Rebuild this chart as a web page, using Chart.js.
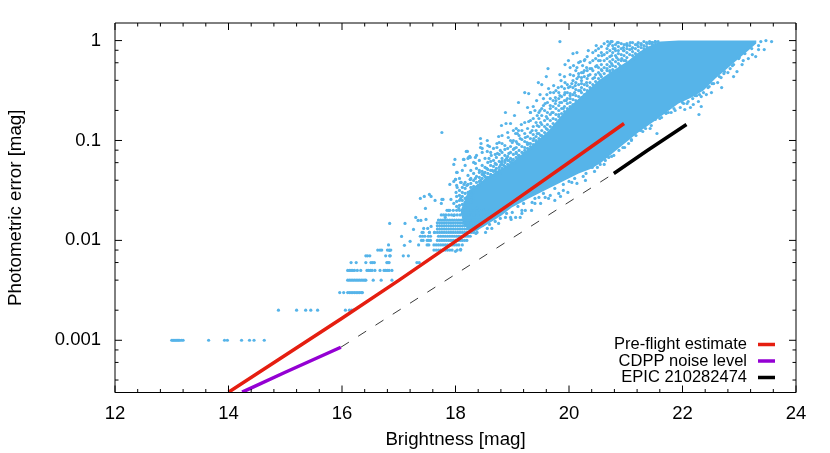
<!DOCTYPE html>
<html>
<head>
<meta charset="utf-8">
<title>Photometric error vs brightness</title>
<script src="https://cdn.jsdelivr.net/npm/chart.js@4/dist/chart.umd.min.js"></script>
<style>
  html, body { margin: 0; padding: 0; background: #fff; }
  canvas { display: block; }
</style>
</head>
<body>
<canvas id="chart" width="830" height="453"></canvas>
<script>
// values: [magnitude, log10(error)]
const redLine = [[14, -3.52], [15, -3.15], [16, -2.78], [17, -2.4], [18, -2.01], [19, -1.62], [20, -1.22], [20.97, -0.83]];
const purpleLine = [[14.24, -3.52], [15, -3.32], [15.98, -3.07]];
const dashedLine = [[15.98, -3.07], [20.79, -1.33]];
const blackLine = [[20.79, -1.33], [21.38, -1.1], [22.07, -0.84]];

// outline of the solid part of the cloud, too dense to read point by point
const coreOutline = [
  [18.23, -1.5], [18.58, -1.36], [18.99, -1.22], [19.29, -1.08], [19.64, -0.9], [19.94, -0.7],
  [20.29, -0.52], [20.52, -0.4], [20.75, -0.31], [21.05, -0.2], [21.22, -0.12], [21.4, -0.06],
  [21.61, -0.01], [21.93, 0], [23.3, 0], [23.3, -0.03], [23.16, -0.1], [22.95, -0.2], [22.81, -0.27],
  [22.58, -0.38], [22.37, -0.5], [22.16, -0.57], [21.93, -0.63], [21.52, -0.8], [21.22, -0.92],
  [20.87, -1.08], [20.57, -1.22], [20.4, -1.28], [20.17, -1.33], [19.64, -1.48], [19.29, -1.58],
  [18.99, -1.67], [18.81, -1.75], [18.53, -1.85], [18.32, -1.92], [18.14, -1.85], [18.09, -1.7]
];

// faint stars: the error is rounded to 0.001, so they line up in rows
const rowErrors = [0.001, 0.002, 0.003, 0.004, 0.005, 0.006, 0.007, 0.008, 0.009, 0.01, 0.011, 0.012, 0.013, 0.014, 0.015, 0.016, 0.018, 0.02];
const rowMags = [
  [13.0, 13.02, 13.04, 13.06, 13.08, 13.1, 13.12, 13.14, 13.17, 13.2, 13.65, 13.93, 13.98, 14.23, 14.37, 14.45, 14.63],
  [14.88, 15.2, 15.36, 15.45, 15.57, 16.06, 16.13, 16.17, 16.2],
  [15.96, 16.03, 16.1, 16.13, 16.16, 16.19, 16.22, 16.25, 16.28, 16.31, 16.34, 16.36],
  [16.1, 16.13, 16.16, 16.19, 16.22, 16.25, 16.28, 16.31, 16.34, 16.37, 16.4, 16.42, 16.55, 16.69, 16.88],
  [16.1, 16.13, 16.16, 16.19, 16.22, 16.27, 16.33, 16.44, 16.47, 16.5, 16.53, 16.58, 16.67, 16.74, 16.77, 16.8, 16.83, 16.88],
  [16.16, 16.25, 16.42, 16.51, 16.54, 16.57, 16.79, 16.81, 16.83, 17.32, 17.36],
  [16.42, 16.45, 16.49, 16.77, 16.85, 16.84, 17.08, 17.17],
  [16.63, 16.67, 16.7, 16.8, 16.83, 16.86, 17.62, 17.66, 17.7, 17.74, 17.78, 17.82, 17.86, 17.9, 17.94, 18.03, 18.09],
  [16.82, 17.35, 17.5, 17.53, 17.62, 17.66, 17.7, 17.74, 17.78, 17.82, 17.86, 17.9, 17.94, 17.98, 18.02, 18.06, 18.12],
  [17.4, 17.43, 17.5, 17.53, 17.56, 17.68, 17.72, 17.76, 17.8, 17.84, 17.88, 17.92, 17.96, 18.0, 18.04, 18.08, 18.12, 18.16, 18.2],
  [17.38, 17.42, 17.46, 17.52, 17.56, 17.7, 17.74, 17.78, 17.82, 17.86, 17.9, 17.94, 17.98, 18.02, 18.06, 18.1, 18.14, 18.18, 18.22, 18.26],
  [17.43, 17.54, 17.63, 17.68, 17.72, 17.76, 17.8, 17.84, 17.88, 17.92, 17.96, 18.0, 18.04, 18.08, 18.12, 18.16, 18.2, 18.24, 18.28, 18.32, 18.38],
  [17.68, 17.72, 17.76, 17.8, 17.84, 17.88, 17.92, 17.96, 18.0, 18.04, 18.08, 18.12, 18.16, 18.2, 18.24, 18.28, 18.32, 18.38],
  [17.68, 17.72, 17.76, 17.8, 17.84, 17.88, 17.92, 17.96, 18.0, 18.04, 18.08, 18.12, 18.16, 18.2, 18.24, 18.28, 18.32, 18.36, 18.4, 18.44],
  [17.68, 17.72, 17.76, 17.8, 17.84, 17.88, 17.92, 17.96, 18.0, 18.04, 18.08, 18.12, 18.16, 18.2, 18.24, 18.28, 18.32, 18.36, 18.4, 18.44, 18.47],
  [17.7, 17.74, 17.78, 17.82, 17.86, 17.9, 17.94, 17.98, 18.02, 18.06, 18.1, 18.14, 18.18, 18.22, 18.26, 18.3, 18.34, 18.38, 18.42, 18.46, 18.5],
  [17.75, 17.79, 17.83, 17.88, 17.93, 17.98, 18.03, 18.08, 18.13, 18.18, 18.23, 18.28, 18.33, 18.4, 18.5, 18.56],
  [17.85, 17.9, 17.96, 18.02, 18.07, 18.12, 18.17, 18.22, 18.27, 18.33, 18.42, 18.5, 18.6]
];

// thick band of stars above the solid core, one column of log10(error) per magnitude
const bandMags = [18.02, 18.07, 18.12, 18.17, 18.22, 18.27, 18.32, 18.37, 18.42, 18.47, 18.52, 18.57, 18.62, 18.67, 18.72, 18.77, 18.82, 18.87, 18.92, 18.97,
  19.02, 19.07, 19.12, 19.17, 19.22, 19.27, 19.32, 19.37, 19.42, 19.47, 19.52, 19.57, 19.62, 19.67, 19.72, 19.77, 19.82, 19.87, 19.92, 19.97,
  20.02, 20.07, 20.12, 20.17, 20.22, 20.27, 20.32, 20.37, 20.42, 20.47, 20.52, 20.57, 20.62, 20.67, 20.72, 20.77, 20.82, 20.87, 20.92, 20.97,
  21.02, 21.07, 21.12, 21.17, 21.22, 21.27, 21.32, 21.37, 21.42, 21.47, 21.52, 21.57];
const bandLogErrs = [
  [-1.45, -1.56, -1.61, -1.66], [-1.38, -1.5, -1.55, -1.6, -1.65], [-1.3, -1.47, -1.52, -1.56, -1.6, -1.64], [-1.25, -1.42, -1.48, -1.53, -1.58, -1.62, -1.67],
  [-1.18, -1.35, -1.44, -1.52, -1.56, -1.6, -1.65, -1.69], [-1.3, -1.38, -1.43, -1.47, -1.55, -1.62], [-1.22, -1.33, -1.4, -1.46, -1.52, -1.58], [-1.15, -1.28, -1.36, -1.42, -1.47],
  [-1.2, -1.32, -1.37, -1.41, -1.46], [-1.12, -1.25, -1.34, -1.38, -1.42], [-1.18, -1.27, -1.32, -1.36, -1.4], [-1.05, -1.22, -1.29, -1.33, -1.37],
  [-1.12, -1.25, -1.3, -1.34], [-1.08, -1.2, -1.26, -1.31, -1.35], [-1.17, -1.24, -1.28, -1.32], [-1.02, -1.14, -1.21, -1.27, -1.3],
  [-0.95, -1.12, -1.18, -1.24, -1.28], [-1.05, -1.15, -1.22, -1.26], [-0.92, -1.08, -1.16, -1.2, -1.24], [-1.06, -1.12, -1.18, -1.22],
  [-0.9, -1.0, -1.09, -1.14, -1.19], [-0.88, -1.01, -1.07, -1.12, -1.17], [-0.95, -1.04, -1.1, -1.15], [-0.9, -0.99, -1.06, -1.12],
  [-0.82, -0.93, -1.01, -1.07, -1.1], [-0.88, -0.96, -1.04, -1.08], [-0.8, -0.92, -0.98, -1.03, -1.06], [-0.78, -0.86, -0.94, -1.0, -1.04],
  [-0.82, -0.9, -0.96, -1.01], [-0.72, -0.78, -0.86, -0.93, -0.98], [-0.68, -0.75, -0.84, -0.9, -0.95], [-0.7, -0.8, -0.86, -0.92],
  [-0.62, -0.72, -0.78, -0.84, -0.89], [-0.58, -0.68, -0.74, -0.8, -0.86], [-0.6, -0.66, -0.72, -0.78, -0.83], [-0.5, -0.6, -0.68, -0.74, -0.79],
  [-0.52, -0.58, -0.65, -0.7, -0.76], [-0.46, -0.56, -0.62, -0.68, -0.73], [-0.36, -0.48, -0.54, -0.6, -0.66, -0.71], [-0.44, -0.52, -0.58, -0.63, -0.68],
  [-0.34, -0.46, -0.53, -0.58, -0.62, -0.66], [-0.4, -0.47, -0.54, -0.59, -0.64], [-0.3, -0.42, -0.49, -0.55, -0.6], [-0.22, -0.36, -0.44, -0.5, -0.56],
  [-0.32, -0.4, -0.47, -0.52, -0.57], [-0.2, -0.3, -0.36, -0.44, -0.49, -0.54], [-0.16, -0.3, -0.38, -0.45, -0.5], [-0.22, -0.28, -0.34, -0.42, -0.47],
  [-0.12, -0.2, -0.3, -0.38, -0.44], [-0.1, -0.18, -0.26, -0.34, -0.41], [-0.08, -0.2, -0.27, -0.32, -0.38], [-0.06, -0.12, -0.24, -0.29, -0.36],
  [-0.03, -0.14, -0.2, -0.27, -0.33], [-0.08, -0.12, -0.18, -0.24, -0.3], [-0.03, -0.1, -0.16, -0.21, -0.26, -0.31], [-0.05, -0.12, -0.19, -0.25, -0.29],
  [-0.04, -0.1, -0.15, -0.21, -0.26], [-0.06, -0.13, -0.19, -0.23], [-0.03, -0.08, -0.14, -0.2], [-0.04, -0.1, -0.15, -0.2],
  [-0.03, -0.08, -0.12, -0.17], [-0.05, -0.09, -0.14], [-0.02, -0.07, -0.11, -0.15], [-0.04, -0.08, -0.13],
  [-0.02, -0.06, -0.1], [-0.03, -0.07], [-0.01, -0.05, -0.08], [-0.03, -0.06], [-0.01, -0.03], [-0.02, -0.04], [-0.01, -0.02], [-0.01]
];

// scattered stars around the edge of the cloud
const scatterPoints = [
  [16.84, -1.83], [17.11, -1.83], [17.26, -1.89], [17.05, -1.96], [17.2, -2.01], [17.1, -2.05], [16.84, -2.1],
  [17.38, -1.58], [17.45, -1.56], [17.54, -1.54], [17.57, -1.56], [17.47, -1.68], [17.64, -1.6], [17.75, -1.63], [17.78, -1.59],
  [17.3, -1.77], [17.34, -1.8], [17.39, -1.8], [17.48, -1.79], [17.57, -1.86], [17.44, -1.88], [17.41, -1.92], [17.51, -1.88], [17.54, -1.92], [17.63, -1.92],
  [17.76, -0.92], [18.19, -1.11], [18.25, -1.16], [18.14, -1.19], [18.35, -1.17], [17.99, -1.19], [17.97, -1.24], [18.35, -1.23], [18.02, -1.32], [18, -1.39],
  [18.26, -1.39], [17.9, -1.44], [18.09, -1.42], [18.01, -1.52], [18.2, -1.45], [18.32, -1.48], [17.76, -1.59], [17.92, -1.59], [18.09, -1.58], [18.2, -1.57],
  [18.17, -1.63], [17.97, -1.63], [17.88, -1.7], [18.06, -1.68], [18.26, -1.6], [18.29, -1.53], [18.12, -1.73], [17.97, -1.75], [17.82, -1.77], [18.23, -1.7], [18.38, -1.68],
  [18.44, -0.98], [18.45, -1.03], [18.44, -1.07], [18.47, -1.08], [18.56, -1], [18.6, -1.06], [18.56, -1.11], [18.21, -1.11], [18.23, -1.17], [18.26, -1.17], [18.15, -1.19],
  [18.03, -1.32], [18, -1.39], [17.97, -1.41], [18.03, -1.47], [18.1, -1.42], [18.15, -1.44], [18.26, -1.39], [18.47, -1.31], [18.5, -1.33], [18.44, -1.4], [18.53, -1.37],
  [18.59, -1.18], [18.63, -1.15], [18.7, -1.14], [18.74, -1.13], [18.79, -1.1], [18.62, -1.21], [18.73, -1.03], [18.82, -1.03], [18.73, -1.07], [18.76, -0.96], [18.93, -0.97],
  [18.97, -1], [19, -1.02], [19.09, -1.03], [18.81, -0.85], [18.89, -0.83], [18.97, -0.83], [19.16, -0.84], [19.06, -0.93], [19.09, -0.93], [19.11, -0.9], [19.14, -0.98],
  [19.23, -0.97], [19.26, -1.02], [18.87, -1.09], [18.94, -1.13], [19.04, -1.08], [19.07, -1.13], [19.11, -1.15], [18.94, -1.2], [19, -1.2], [18.82, -1.21], [18.87, -1.2],
  [18.7, -1.23], [18.79, -1.25], [18.85, -1.25], [18.65, -1.3], [18.73, -1.32], [18.94, -1.27], [19.04, -1.23], [19.11, -1.18], [19.2, -1.13], [19.29, -1.1], [19.29, -1.03],
  [19.38, -0.98], [19.44, -0.93], [19.35, -0.9], [19.44, -0.75], [19.29, -0.81], [19.32, -0.72], [19.44, -0.85], [18.88, -0.72], [19.04, -0.75],
  [18.5, -1.35], [18.4, -1.45], [18.55, -1.28], [18.7, -1.3], [18.8, -1.22], [18.9, -1.18], [18.35, -1.38], [18.42, -1.3], [18.62, -1.36], [18.78, -1.33],
  [19.84, -0.01], [19.11, -0.62], [19.22, -0.52], [19.29, -0.53], [19.27, -0.67], [19.37, -0.66], [19.32, -0.72], [19.43, -0.6], [19.49, -0.54], [19.46, -0.42], [19.52, -0.44],
  [19.6, -0.36], [19.63, -0.28], [19.64, -0.48], [19.73, -0.45], [19.81, -0.47], [19.73, -0.52], [19.67, -0.52], [19.61, -0.54], [19.55, -0.58], [19.76, -0.57], [19.84, -0.55],
  [19.86, -0.4], [19.84, -0.34], [19.93, -0.42], [20.05, -0.43], [20.14, -0.38], [20.22, -0.37], [19.93, -0.24], [19.99, -0.2], [20.02, -0.27], [20.08, -0.25], [20.07, -0.13],
  [20.14, -0.12], [20.2, -0.21], [20.24, -0.25], [20.14, -0.27], [20.28, -0.19], [20.34, -0.1], [20.48, -0.05], [20.52, -0.15], [20.58, -0.15], [20.55, -0.2], [20.68, -0.01],
  [20.74, -0.01], [20.85, -0.02], [20.69, -0.05], [20.78, -0.08], [20.87, -0.1], [20.96, -0.07], [21.02, -0.05], [20.75, -0.15], [20.84, -0.17], [20.93, -0.18], [20.31, -0.27],
  [20.4, -0.28], [20.49, -0.25], [20.58, -0.3], [20.67, -0.28], [20.75, -0.23], [20.25, -0.32], [20.34, -0.35], [20.45, -0.37], [20.55, -0.34], [20.08, -0.35], [20.17, -0.33],
  [19.99, -0.47], [20.11, -0.45], [20.22, -0.43], [20.31, -0.42], [19.93, -0.52], [19.84, -0.62], [19.76, -0.63], [19.67, -0.65], [19.58, -0.63], [19.49, -0.7], [19.7, -0.72],
  [19.55, -0.65], [19.4, -0.7], [19.95, -0.6], [20.02, -0.55], [20.1, -0.52], [20.2, -0.5], [19.9, -0.68], [19.82, -0.74], [19.6, -0.76], [19.5, -0.82], [19.6, -0.88], [19.42, -1.0],
  [19.35, -1.08], [19.5, -0.95], [20.76, -0.01], [20.87, -0.02], [21.02, -0.04], [21.08, -0.02], [21.2, -0.04], [21.27, -0.04], [21.37, -0.02], [21.46, -0.02], [21.52, -0.01],
  [20.81, -0.08], [20.96, -0.1], [21.11, -0.08], [21.28, -0.12], [21.4, -0.08], [20.72, -0.3], [20.88, -0.3], [21.0, -0.2], [21.15, -0.18], [20.9, -0.25],
  [23.38, -0.01], [23.47, 0], [23.57, -0.01], [23.34, -0.05], [23.34, -0.09], [23.44, -0.09], [23.29, -0.16], [23.23, -0.14], [23.16, -0.18], [23.07, -0.2], [22.99, -0.18],
  [22.96, -0.31], [22.9, -0.36], [22.84, -0.28], [22.8, -0.32], [22.68, -0.37], [22.69, -0.47], [22.55, -0.43], [22.47, -0.46], [22.51, -0.52], [22.37, -0.52], [22.33, -0.56],
  [22.25, -0.55], [22.18, -0.58], [22.19, -0.64], [22.33, -0.66], [22.14, -0.67], [22.04, -0.69], [21.96, -0.67], [22.29, -0.74], [22.08, -0.63], [22.0, -0.62], [21.8, -0.72],
  [23.05, -0.24], [22.9, -0.24], [22.73, -0.33], [22.62, -0.42], [22.42, -0.54], [22.28, -0.61], [21.87, -0.7], [21.7, -0.72], [21.55, -0.93], [21.52, -0.79], [21.43, -0.88],
  [21.26, -0.9], [21.18, -0.95], [21.05, -1.03], [20.98, -1.07], [20.88, -1.1], [20.79, -1.15], [20.64, -1.2], [20.55, -1.24], [20.41, -1.27], [21.71, -0.73], [21.63, -0.77],
  [21.35, -0.88], [21.1, -1.0], [20.7, -1.17], [19.98, -1.52], [20.14, -1.43], [20.29, -1.4], [19.82, -1.53], [19.75, -1.6], [19.85, -1.56], [19.64, -1.58], [19.5, -1.63],
  [19.4, -1.63], [19.34, -1.7], [19.23, -1.7], [19.17, -1.73], [19.14, -1.77], [18.98, -1.79], [19.06, -1.77], [18.76, -1.83], [18.64, -1.88], [18.56, -1.88], [18.53, -1.92],
  [18.44, -1.83], [18.79, -1.78], [18.97, -1.77], [19.58, -1.57], [19.67, -1.55], [19.47, -1.57], [19.35, -1.62], [19.17, -1.7], [19, -1.72], [18.88, -1.77], [18.47, -1.85],
  [18.36, -1.93], [18.09, -2.09], [18, -2.11], [20.05, -1.42], [19.9, -1.5], [20.25, -1.36], [20.45, -1.31],
  [18.6, -1.84], [18.7, -1.81], [18.9, -1.73], [19.1, -1.66], [19.2, -1.63], [19.4, -1.58], [19.55, -1.53], [19.75, -1.48], [19.9, -1.44], [20.0, -1.41], [20.1, -1.38],
  [20.3, -1.33], [20.5, -1.27], [20.62, -1.24], [20.75, -1.16], [20.95, -1.07], [21.1, -0.99], [21.3, -0.91], [21.45, -0.85], [21.6, -0.78], [21.75, -0.72], [21.85, -0.68],
  [22.02, -0.63], [22.1, -0.61], [22.22, -0.55], [22.3, -0.54], [22.45, -0.47], [22.52, -0.43], [22.65, -0.36], [22.74, -0.31], [22.88, -0.25], [23.0, -0.17], [23.1, -0.13], [23.22, -0.08]
];

const xTicks = [12, 14, 16, 18, 20, 22, 24];
const xMinorTicks = [12.4, 12.8, 13.2, 13.6, 14.4, 14.8, 15.2, 15.6, 16.4, 16.8, 17.2, 17.6, 18.4, 18.8, 19.2, 19.6, 20.4, 20.8, 21.2, 21.6, 22.4, 22.8, 23.2, 23.6];
const yTicks = [0.001, 0.01, 0.1, 1];
const yMinorTicks = [0.0004, 0.0006, 0.0008, 0.002, 0.004, 0.006, 0.008, 0.02, 0.04, 0.06, 0.08, 0.2, 0.4, 0.6, 0.8];
const legendLabels = ['Pre-flight estimate', 'CDPP noise level', 'EPIC 210282474'];

const COLOR_CLOUD = '#56b4e9';
const COLOR_RED = '#e51e10';
const COLOR_PURPLE = '#9400d3';
const COLOR_BLACK = '#000000';
const FONT = "'Liberation Sans', Arial, sans-serif";

const toXY = p => ({ x: p[0], y: Math.pow(10, p[1]) });

const rowPoints = [];
rowMags.forEach((mags, i) => mags.forEach(m => rowPoints.push({ x: m, y: rowErrors[i] })));
const bandPoints = [];
bandMags.forEach((m, i) => bandLogErrs[i].forEach(l => bandPoints.push(toXY([m, l]))));

const lineSet = (label, pts, color, width, order) => ({
  label, data: pts.map(toXY), showLine: true, borderColor: color, borderWidth: width,
  pointRadius: 0, fill: false, tension: 0, order, borderCapStyle: 'butt'
});

// gnuplot style frame, ticks inward on all four sides, and legend bottom right
const framePlugin = {
  id: 'frame',
  afterDatasetsDraw(chart) {
    const { ctx, chartArea: a, scales: { x, y } } = chart;
    ctx.save();
    ctx.strokeStyle = '#000';
    ctx.lineWidth = 1;
    ctx.beginPath();
    const xTick = (v, len) => {
      const p = x.getPixelForValue(v);
      ctx.moveTo(p, a.bottom); ctx.lineTo(p, a.bottom - len);
      ctx.moveTo(p, a.top); ctx.lineTo(p, a.top + len);
    };
    const yTick = (v, len) => {
      const p = y.getPixelForValue(v);
      ctx.moveTo(a.left, p); ctx.lineTo(a.left + len, p);
      ctx.moveTo(a.right, p); ctx.lineTo(a.right - len, p);
    };
    xTicks.forEach(v => xTick(v, 7));
    xMinorTicks.forEach(v => xTick(v, 3.5));
    yTicks.forEach(v => yTick(v, 7));
    yMinorTicks.forEach(v => yTick(v, 3.5));
    ctx.rect(a.left, a.top, a.right - a.left, a.bottom - a.top);
    ctx.stroke();

    ctx.font = '16.5px ' + FONT;
    ctx.textAlign = 'right';
    ctx.textBaseline = 'middle';
    ctx.fillStyle = '#000';
    [COLOR_RED, COLOR_PURPLE, COLOR_BLACK].forEach((c, i) => {
      const ly = 344.5 + i * 16.5;
      ctx.fillText(legendLabels[i], 747, ly);
      ctx.beginPath();
      ctx.strokeStyle = c;
      ctx.lineWidth = 3.5;
      ctx.moveTo(758, ly);
      ctx.lineTo(775, ly);
      ctx.stroke();
    });
    ctx.restore();
  }
};

new Chart(document.getElementById('chart').getContext('2d'), {
  type: 'scatter',
  data: {
    datasets: [
      lineSet('Pre-flight estimate', redLine, COLOR_RED, 3.5, 1),
      lineSet('CDPP noise level', purpleLine, COLOR_PURPLE, 3.5, 1),
      lineSet('EPIC 210282474', blackLine, COLOR_BLACK, 3.5, 1),
      Object.assign(lineSet('Extrapolation', dashedLine, '#222222', 0.9, 2), { borderDash: [9.5, 11] }),
      { label: 'Stars', data: scatterPoints.map(toXY).concat(rowPoints, bandPoints), pointRadius: 1.6, pointBorderWidth: 0,
        pointBackgroundColor: COLOR_CLOUD, order: 3 },
      { label: 'Stars (dense core)', data: coreOutline.map(toXY), showLine: true, pointRadius: 0, borderWidth: 0,
        borderColor: COLOR_CLOUD, backgroundColor: COLOR_CLOUD, fill: 'shape', tension: 0, order: 4 }
    ]
  },
  options: {
    responsive: false,
    animation: false,
    layout: { padding: { top: 23, right: 34, left: 0, bottom: 0 } },
    plugins: { legend: { display: false }, tooltip: { enabled: false } },
    scales: {
      x: {
        type: 'linear', min: 12, max: 24,
        afterBuildTicks: s => { s.ticks = xTicks.map(v => ({ value: v })); },
        afterFit: s => { s.height = 60.5; },
        grid: { display: false }, border: { display: false },
        ticks: { color: '#000', font: { family: FONT, size: 18.5 }, padding: 2, maxRotation: 0, autoSkip: false },
        title: { display: true, text: 'Brightness [mag]', color: '#000', font: { family: FONT, size: 18.7 }, padding: { top: 2, bottom: 1.5 } }
      },
      y: {
        type: 'logarithmic', min: 0.0003, max: 1.5,
        afterBuildTicks: s => { s.ticks = yTicks.map(v => ({ value: v })); },
        afterFit: s => { s.width = 115; },
        grid: { display: false }, border: { display: false },
        ticks: { color: '#000', font: { family: FONT, size: 18.5 }, padding: 6, autoSkip: false, callback: v => String(v) },
        title: { display: true, text: 'Photometric error [mag]', color: '#000', font: { family: FONT, size: 18.7 }, padding: { top: 5, bottom: 0 } }
      }
    }
  },
  plugins: [framePlugin]
});
</script>
</body>
</html>
